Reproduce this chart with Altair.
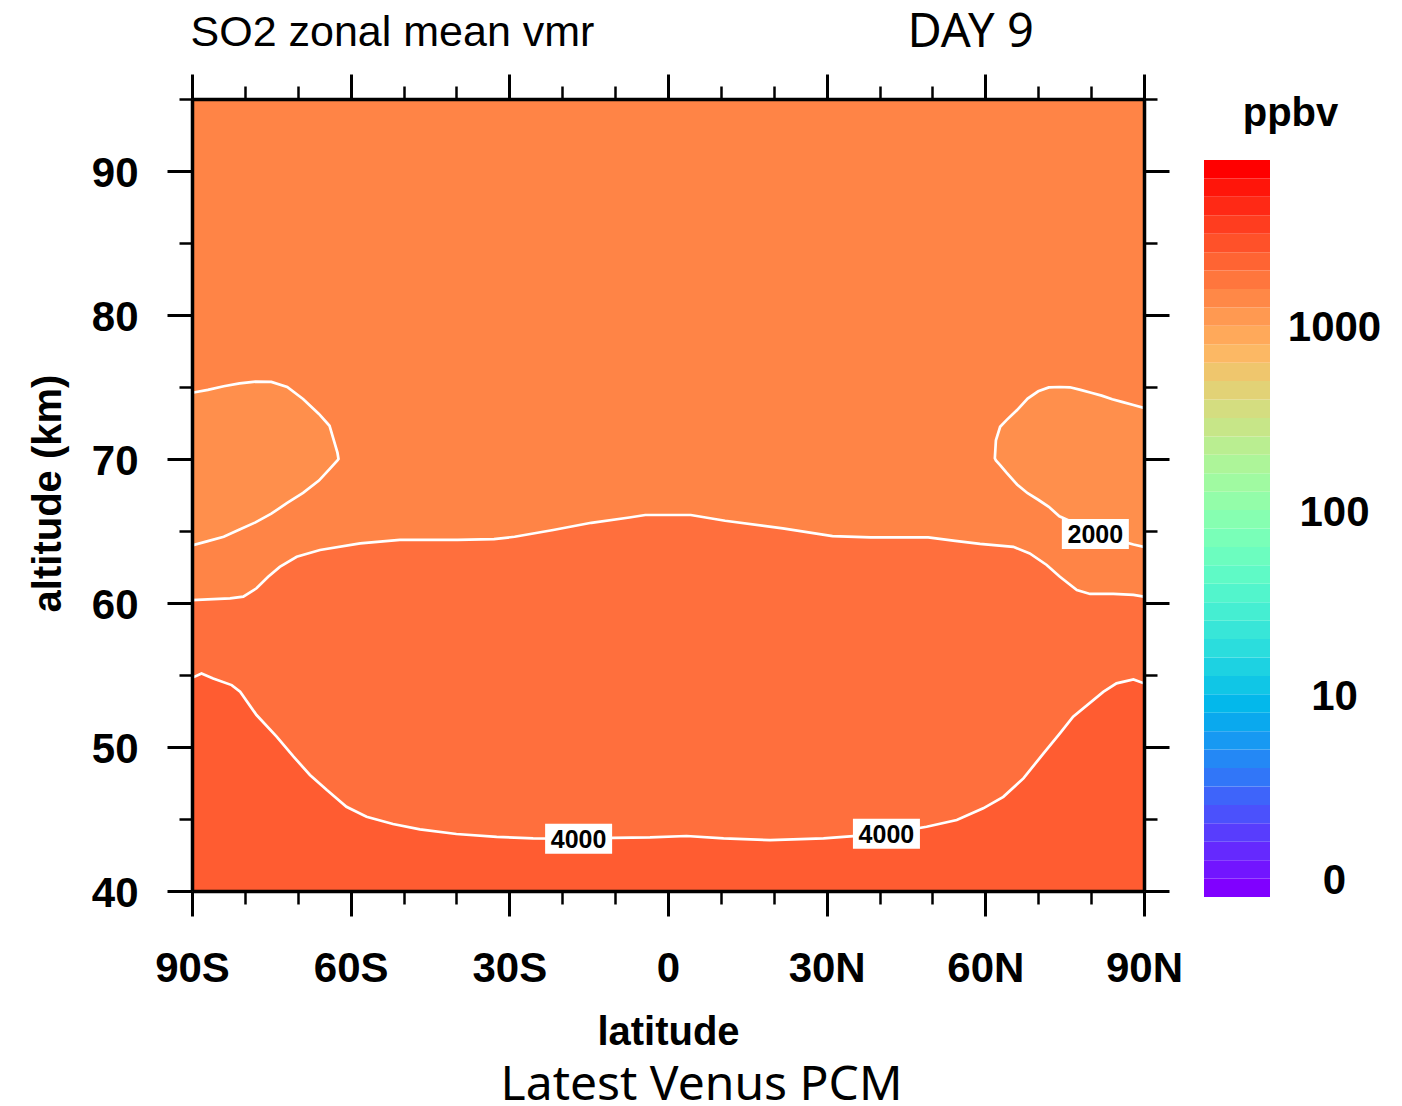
import altair as alt
import pandas as pd

# ---------------- data ----------------
# boundary between the 2000-3000 band and the 3000-4000 band
mid_lat = [-90, -87, -82.8, -80.3, -77.8, -75.6, -73.4, -70.2, -65.8, -58.2, -50.7, -39.8,
           -32.9, -29.0, -21.7, -14.5, -7.3, -4.3, 4.3, 10.8, 21.7, 31.1, 38.3, 49.2, 54.3,
           59.0, 65.3, 68.4, 71.6, 74.1, 77.3, 79.8, 84.2, 88.0, 90]
mid_alt = [60.2, 60.25, 60.32, 60.44, 61.02, 61.82, 62.51, 63.21, 63.68, 64.14, 64.38, 64.38,
           64.44, 64.60, 65.07, 65.57, 65.94, 66.11, 66.11, 65.71, 65.18, 64.65, 64.56, 64.56, 64.32,
           64.10, 63.90, 63.44, 62.64, 61.82, 60.90, 60.63, 60.63, 60.56, 60.44]

# 4000 ppbv contour
c4000_lat = [-90, -88.2, -86.0, -82.5, -80.9, -77.8, -74.0, -70.8, -67.7, -64.5, -60.8, -57.0,
             -52.0, -46.9, -40.0, -32.4, -25.5, -16.9, -10.3, -3.4, 3.5, 10.5, 19.3, 29.4, 41.3,
             48.9, 54.6, 59.6, 63.4, 67.2, 71.0, 74.1, 76.6, 82.3, 84.8, 88.0, 90]
c4000_alt = [54.8, 55.11, 54.76, 54.30, 53.84, 52.22, 50.72, 49.33, 48.06, 47.01, 45.85, 45.16,
             44.65, 44.28, 43.96, 43.76, 43.65, 43.63, 43.69, 43.72, 43.82, 43.65, 43.53, 43.65, 43.98,
             44.46, 44.93, 45.74, 46.54, 47.82, 49.56, 50.94, 52.10, 53.83, 54.42, 54.69, 54.42]

# 2000 ppbv pockets near the poles
lp_lat = [-90, -87, -84, -81, -78, -75, -72, -69, -66, -64, -62.5, -62.3]
lp_low = [64.0, 64.3, 64.6, 65.1, 65.6, 66.2, 66.95, 67.65, 68.5, 69.3, 69.9, 70.0]
lp_up = [74.6, 74.8, 75.05, 75.25, 75.37, 75.35, 75.0, 74.17, 73.13, 72.31, 70.44, 70.0]

rp_lat = [61.8, 62.0, 62.8, 64, 66, 68, 70, 72, 74, 76, 78, 80, 82, 84, 86, 88, 90]
rp_low = [70.05, 69.9, 69.58, 69.05, 68.23, 67.62, 67.17, 66.68, 66.02, 65.69, 65.38, 65.06,
          64.78, 64.52, 64.26, 64.06, 63.9]
rp_up = [70.05, 71.3, 72.24, 72.7, 73.4, 74.2, 74.7, 74.97, 75.0, 74.98, 74.8, 74.6,
         74.4, 74.15, 73.95, 73.75, 73.54]

# contour labels
label_lat = [80.8, -16.9, 41.3]
label_alt = [64.8, 43.63, 43.98]
label_text = ["2000", "4000", "4000"]

# axes
lat_major = [-90, -60, -30, 0, 30, 60, 90]
lat_labels = ["90S", "60S", "30S", "0", "30N", "60N", "90N"]
lat_minor = [-80, -70, -50, -40, -20, -10, 10, 20, 40, 50, 70, 80]
alt_major = [40, 50, 60, 70, 80, 90]
alt_minor = [45, 55, 65, 75, 85, 95]

# colour bar (40 boxes, bottom to top)
cb_colors = ["#8000FF", "#7215FF", "#6529FE", "#583DFD", "#4B51FC", "#3E64FA", "#3176F8", "#2488F5",
             "#1799F2", "#0AA9EE", "#03B8EB", "#10C6E6", "#1DD2E2", "#2BDDDD", "#38E6D8", "#45EED2",
             "#52F5CC", "#5FFAC6", "#6CFDBF", "#79FFB8", "#86FFB1", "#93FDA9", "#A0FAA1", "#ADF599",
             "#BAEE91", "#C7E688", "#D4DD80", "#E2D276", "#EFC66D", "#FCB864", "#FFA95A", "#FF9951",
             "#FF8847", "#FF763D", "#FF6433", "#FF5129", "#FF3D1F", "#FF2915", "#FF150A", "#FF0000"]
cb_tick_pos = [1, 11, 21, 31]
cb_tick_labels = ["0", "10", "100", "1000"]

# ---------------- styling ----------------
C_TOP = "#FF8446"
C_POCKET = "#FF8F4C"
C_MID = "#FF6F3D"
C_BOT = "#FF5C31"
HELV = "Liberation Sans"
NOTO = "Noto Sans"

W, H = 952, 792
xs = alt.Scale(domain=[-90, 90], nice=False, zero=False)
ys = alt.Scale(domain=[40, 95], nice=False, zero=False)


def tick_axis(orient, values, size, width, domain=False, **kw):
    return alt.Axis(orient=orient, values=values, tickSize=size, tickWidth=width,
                    tickColor="black", ticks=True, domain=domain, domainColor="black",
                    domainWidth=3.5, grid=False, zindex=1, **kw)


xlab_expr = " : ".join(f"datum.value == {v} ? '{t}'" for v, t in zip(lat_major, lat_labels)) + " : ''"

ax_bottom_major = tick_axis("bottom", lat_major, 25, 3, domain=True, labels=True,
                            labelExpr=xlab_expr, labelFont=HELV, labelFontSize=42,
                            labelFontWeight="bold", labelColor="black", labelBaseline="alphabetic",
                            labelAlign="center", labelPadding=65, labelFlush=False, labelOverlap=False,
                            title="latitude", titleX=476, titleY=153, titleAlign="center",
                            titleBaseline="alphabetic", titleFont=HELV, titleFontSize=40,
                            titleFontWeight="bold", titleColor="black")
ax_bottom_minor = tick_axis("bottom", lat_minor, 13, 2.5, labels=False,
                            title="Latest Venus PCM", titleX=509, titleY=208, titleAlign="center",
                            titleBaseline="alphabetic", titleFont=NOTO, titleFontSize=48,
                            titleFontWeight="normal", titleColor="black")
ax_top_major = tick_axis("top", lat_major, 25, 3, domain=True, labels=False,
                         title="DAY 9", titleX=715, titleY=-53, titleAlign="left", titleAngle=0,
                         titleBaseline="alphabetic", titleFont=NOTO, titleFontSize=47,
                         titleFontWeight="normal", titleColor="black")
ax_top_minor = tick_axis("top", lat_minor, 13, 2.5, labels=False,
                         title="SO2 zonal mean vmr", titleX=-2, titleY=-54, titleAlign="left",
                         titleAngle=0, titleBaseline="alphabetic", titleFont=HELV,
                         titleFontSize=43, titleFontWeight="normal", titleColor="black")
ax_left_major = tick_axis("left", alt_major, 25, 3, domain=True, labels=True,
                          labelFont=HELV, labelFontSize=42, labelFontWeight="bold",
                          labelColor="black", labelBaseline="alphabetic", labelAlign="right",
                          labelPadding=29, labelOffset=15, labelFlush=False, labelOverlap=False,
                          title="altitude (km)", titleX=-132, titleY=394, titleAngle=270,
                          titleAlign="center", titleBaseline="alphabetic", titleFont=HELV,
                          titleFontSize=40, titleFontWeight="bold", titleColor="black")
ax_left_minor = tick_axis("left", alt_minor, 13, 2.5, labels=False, title=None)
ax_right_major = tick_axis("right", alt_major, 25, 3, domain=True, labels=False, title=None)
ax_right_minor = tick_axis("right", alt_minor, 13, 2.5, labels=False, title=None)

# ---------------- data frames ----------------
bg_df = pd.DataFrame({"lat": [-90], "lat2": [90], "alt": [40], "alt2": [95]})
mid_df = pd.DataFrame({"lat": mid_lat, "alt": mid_alt})
c4_df = pd.DataFrame({"lat": c4000_lat, "alt": c4000_alt})
lp_df = pd.DataFrame({"lat": lp_lat, "low": lp_low, "up": lp_up})
rp_df = pd.DataFrame({"lat": rp_lat, "low": rp_low, "up": rp_up})


def outline(lats, lows, ups, left_edge):
    if left_edge:
        pts = list(zip(lats, ups)) + list(zip(lats[::-1], lows[::-1]))[1:]
    else:
        pts = list(zip(lats[::-1], lows[::-1])) + list(zip(lats, ups))[1:]
    return pd.DataFrame({"lat": [p[0] for p in pts], "alt": [p[1] for p in pts],
                         "ord": list(range(len(pts)))})


lp_line = outline(lp_lat, lp_low, lp_up, True)
rp_line = outline(rp_lat, rp_low, rp_up, False)
lab_df = pd.DataFrame({"lat": label_lat, "alt": label_alt, "txt": label_text})

# ---------------- layers ----------------
bg = alt.Chart(bg_df).mark_rect(color=C_TOP).encode(
    x=alt.X("lat:Q", scale=xs, axis=ax_bottom_major),
    x2="lat2:Q",
    y=alt.Y("alt:Q", scale=ys, axis=ax_left_major),
    y2="alt2:Q",
)
mid_area = alt.Chart(mid_df).mark_area(color=C_MID, clip=True).encode(
    x=alt.X("lat:Q", scale=xs, axis=ax_bottom_minor),
    y=alt.Y("alt:Q", scale=ys, axis=ax_left_minor),
    y2=alt.datum(40),
)
bot_area = alt.Chart(c4_df).mark_area(color=C_BOT, clip=True).encode(
    x=alt.X("lat:Q", scale=xs, axis=ax_top_major),
    y=alt.Y("alt:Q", scale=ys, axis=ax_right_major),
    y2=alt.datum(40),
)
lp_area = alt.Chart(lp_df).mark_area(color=C_POCKET, clip=True).encode(
    x=alt.X("lat:Q", scale=xs, axis=ax_top_minor),
    y=alt.Y("low:Q", scale=ys, axis=ax_right_minor),
    y2="up:Q",
)
rp_area = alt.Chart(rp_df).mark_area(color=C_POCKET, clip=True).encode(
    x=alt.X("lat:Q", scale=xs, axis=None),
    y=alt.Y("low:Q", scale=ys, axis=None),
    y2="up:Q",
)


def cline(df, ordered=False):
    enc = dict(x=alt.X("lat:Q", scale=xs, axis=None), y=alt.Y("alt:Q", scale=ys, axis=None))
    if ordered:
        enc["order"] = alt.Order("ord:Q")
    return alt.Chart(df).mark_line(color="white", strokeWidth=2.7, clip=True).encode(**enc)


lines = [cline(mid_df), cline(c4_df), cline(lp_line, True), cline(rp_line, True)]

lab_box = alt.Chart(lab_df).mark_rect(color="white", width=67, height=30).encode(
    x=alt.X("lat:Q", scale=xs, axis=None), y=alt.Y("alt:Q", scale=ys, axis=None))
lab_txt = alt.Chart(lab_df).mark_text(font=HELV, fontSize=25, fontWeight="bold", color="black",
                                      align="center", baseline="middle", dy=1).encode(
    x=alt.X("lat:Q", scale=xs, axis=None), y=alt.Y("alt:Q", scale=ys, axis=None), text="txt:N")

main = alt.layer(bg, mid_area, bot_area, lp_area, rp_area, *lines, lab_box, lab_txt).resolve_axis(
    x="independent", y="independent").properties(width=W, height=H)

# ---------------- colour bar ----------------
cb_df = pd.DataFrame({"lo": list(range(len(cb_colors))),
                      "hi": [i + 1 for i in range(len(cb_colors))],
                      "col": cb_colors})
cb_expr = " : ".join(f"datum.value == {v} ? '{t}'" for v, t in zip(cb_tick_pos, cb_tick_labels)) + " : ''"
CB_H = 798
cbar = alt.Chart(cb_df).mark_rect().encode(
    x=alt.datum(0, scale=alt.Scale(domain=[0, 1]), axis=None),
    x2=alt.datum(1),
    y=alt.Y("lo:Q", scale=alt.Scale(domain=[0, 40], range=[CB_H, 61], nice=False, zero=False),
            axis=alt.Axis(orient="right", values=cb_tick_pos, labelExpr=cb_expr, ticks=False,
                          tickSize=0, domain=False, grid=False, labelPadding=64,
                          labelAlign="center", labelBaseline="alphabetic", labelOffset=15,
                          labelFont=HELV, labelFontSize=42, labelFontWeight="bold",
                          labelColor="black", labelFlush=False, labelOverlap=False,
                          title="ppbv", titleX=20, titleY=26, titleAngle=0, titleAlign="center",
                          titleBaseline="alphabetic", titleFont=HELV, titleFontSize=40,
                          titleFontWeight="bold", titleColor="black")),
    y2="hi:Q",
    color=alt.Color("col:N", scale=None),
).properties(width=66, height=CB_H)

chart = alt.hconcat(main, cbar, spacing=60, bounds="flush").properties(
    autosize=alt.AutoSizeParams(type="none"),
    padding={"left": 192, "top": 99, "right": 1210, "bottom": 1007},
    background="white",
).configure_view(stroke="transparent", strokeWidth=0)

chart.save("out.html", embed_options={"renderer": "svg", "actions": False})
